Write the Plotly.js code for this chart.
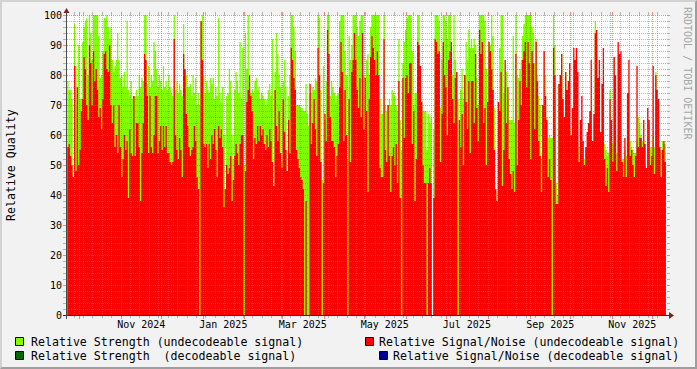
<!DOCTYPE html>
<html><head><meta charset="utf-8">
<script src="https://cdn.plot.ly/plotly-3.0.1.min.js"></script>
<style>
html,body{margin:0;padding:0;background:#F2F2F2;}
#wrap{width:693px;height:365px;border-style:solid;border-width:2px;border-color:#D2D2D2 #9E9E9E #9E9E9E #D2D2D2;background:#F2F2F2;}
#chart{width:693px;height:365px;}
</style></head><body>
<div id="wrap"><div id="chart"></div></div>
<script>
// ---- data: one value per day, first day 2024-09-22 ----
const firstDay = [2024, 8, 22];
const strengthA = [78,75,75,72,43,97,83,70,90,72, 72,91,96,98,99,80,100,94,85,100, 100,100,100,93,79,80,88,99,99,100, 96,92,96,85,81,83,85,94,85,79, 80,76,81,76,98,75,73,78,72,73, 73,75,73,80,76,79,78,100,100,77, 83,76,80,78,91,88,82,76,80,78, 75,83,76,78,75];
const snrA = [56,57,53,50,46,83,48,76,50,55, 68,72,86,82,70,65,90,84,70,88, 78,82,75,66,69,62,72,87,88,82, 81,90,70,64,70,56,60,54,70,56, 46,52,60,55,58,39,62,54,53,73, 53,64,64,56,38,54,64,87,85,73, 54,73,56,54,60,73,73,54,58,63, 55,63,56,63,54];
const strengthB = [80,76,74,73,100,75,78,74,77,75, 73,97,82,80,76,76,77,73,80,74, 79,70,74,70,98,100,80,74,78,75, 74,79,77,79,72,76,73,99,74,71, 76,60,42,73,74,82,78,60,52,75, 81,78,74,91,72,89,50,94,82,100, 76,74,75,74,78,79,75,76,72,74, 73,72,70,72];
const snrB = [54,51,50,51,92,60,55,52,59,55, 46,87,82,67,63,56,53,55,56,63, 58,46,42,0,98,85,57,56,57,49, 57,52,60,57,62,55,46,63,59,62, 56,36,42,50,47,49,53,38,45,53, 57,54,50,57,60,60,0,48,71,75, 80,73,68,52,59,57,63,58,63,60, 62,57,55,60];
const strengthC = [75,77,73,92,43,81,94,87,80,76, 51,78,85,76,48,73,80,100,100,96, 88,70,70,70,69,69,68,68,77,67, 63,74,74,76,75,79,78,100,99,75, 45,83,65,78,100,100,73,78,76,74, 71,73,74,98,100,100,100,88,80,52, 93,85,90,100,100,100,96,93,98,100, 100,80,70,85];
const snrC = [56,62,58,51,43,75,63,58,68,54, 49,72,61,55,48,65,54,89,85,79, 75,55,52,49,46,45,42,0,38,0, 0,77,57,64,72,62,53,89,80,51, 0,44,67,58,95,87,66,58,58,56, 46,53,57,76,91,81,58,75,60,0, 72,51,81,85,94,85,75,69,79,66, 94,62,79,68];
const strengthD = [87,80,96,100,100,100,100,100,100,72, 67,67,100,70,68,70,72,70,75,74, 73,70,68,92,65,55,84,91,95,99, 100,100,100,88,70,74,74,100,100,72, 71,68,68,68,55,67,64,66,0,62, 100,100,100,98,69,85,100,100,98,92, 100,100,91,80,100,85,81,72,59,75, 82,72,80,91,85];
const snrD = [41,72,86,93,89,85,80,88,80,49, 46,46,92,55,51,70,53,41,53,56, 50,57,44,78,39,0,79,59,79,80, 74,84,84,57,68,38,52,91,90,83, 71,50,44,44,0,44,49,44,0,39, 92,91,87,88,51,67,91,80,76,60, 85,88,91,72,64,79,81,0,65,56, 67,50,80,71,62];
const strengthE = [95,89,92,89,92,90,79,70,100,100, 100,100,98,82,71,91,90,100,93,69, 41,37,71,89,100,100,74,76,81,72, 65,65,65,93,64,100,80,79,82,85, 93,97,100,100,100,100,100,96,94,84, 92,80,73,70,52,70,88,80,66,59, 60,59,59,100,90,44,40,77,80,87, 72,66,81,75];
const snrE = [78,54,78,78,64,87,69,58,95,87, 91,64,69,50,71,91,88,82,75,55, 42,38,71,68,81,43,55,85,64,76, 52,47,42,48,41,87,50,65,78,70, 85,88,91,76,91,84,52,88,84,62, 91,78,58,53,41,70,88,73,65,46, 52,45,0,89,80,37,37,77,80,87, 72,66,81,75];
const strengthF = [60,62,55,58,60,57,55,58,56,55, 54,50,52,55,54,53,55,60,57,58, 98,90,60,62,55,58,57,57,55,53, 54,75,58,57,86,60,54,60,62,58, 52,52,55,53,60,58,58,56,55,54, 54,58,66,64,60,58,58,50,49,60, 58,56,56,60,56,81,60,58,55,55, 58,57,57];
const snrF = [78,84,60,69,89,85,89,81,51,65, 73,58,50,56,61,64,68,85,58,67, 94,95,79,85,61,77,89,52,43,49, 41,72,65,51,86,80,48,91,87,88, 51,46,59,46,74,85,53,55,50,46, 53,83,56,59,59,56,65,57,49,69, 65,50,53,83,47,80,75,72,56,46, 55,58,51];

const xTickDates = ['2024-11-16','2025-01-16','2025-03-16','2025-05-16','2025-07-16','2025-09-16','2025-11-16'];
const xTickLabels = ['Nov 2024','Jan 2025','Mar 2025','May 2025','Jul 2025','Sep 2025','Nov 2025'];
const yTickVals = [0,10,20,30,40,50,60,70,80,90,100];
const seriesNames = ['Relative Strength (undecodeable signal)','Relative Strength\u00A0\u00A0(decodeable signal)','Relative Signal/Noise (undecodeable signal)','Relative Signal/Noise (decodeable signal)'];
const seriesColors = ['#7FFF00','#006600','#FF0000','#000099'];

// ---- helpers ----
const DAY = 86400000;
const T0 = Date.UTC(2024, 8, 21, 19), T1 = T0 + 446 * DAY;
const D0 = Date.UTC(firstDay[0], firstDay[1], firstDay[2]);
const PL = 67, PT = 15, PW = 600, PH = 300;
const px = X => (X - PL) / PW;
const py = Y => (PT + PH - Y) / PH;
const iso = ms => new Date(ms).toISOString().slice(0, 19).replace('T', ' ');
const xPage = ms => PL + (ms - T0) / (T1 - T0) * PW;
const FONT = '"DejaVu Sans Mono", monospace';

const strength = [].concat(strengthA, strengthB, strengthC, strengthD, strengthE, strengthF);
const snr = [].concat(snrA, snrB, snrC, snrD, snrE, snrF);
const N = strength.length;
const xs = [];
for (let i = 0; i <= N; i++) xs.push(iso(D0 + i * DAY));
const gY = strength.concat([strength[N - 1]]);
const rY = snr.concat([snr[N - 1]]);

const traces = [
  {type:'scatter', x:xs, y:gY, mode:'lines', line:{width:0, shape:'hv', color:seriesColors[0]}, fill:'tozeroy', fillcolor:seriesColors[0], hoverinfo:'skip', name:seriesNames[0]},
  {type:'scatter', x:xs, y:rY, mode:'lines', line:{width:0, shape:'hv', color:seriesColors[2]}, fill:'tozeroy', fillcolor:seriesColors[2], hoverinfo:'skip', name:seriesNames[2]}
];

// ---- grid (drawn above data like rrdtool) ----
const shapes = [];
const MINC = 'rgba(130,130,130,0.55)', MAJC = 'rgba(222,80,80,0.65)';
function seg(X0, Y0, X1, Y1, color, dash) {
  shapes.push({type:'line', xref:'paper', yref:'paper', x0:px(X0), y0:py(Y0), x1:px(X1), y1:py(Y1),
    line:{color:color, width:1, dash:dash || 'solid'}, layer:'above'});
}
for (let v = 2; v <= 100; v += 2) {
  const Y = 315.5 - 3 * v;
  const c = (v % 10 === 0) ? MAJC : MINC;
  seg(67, Y, 667, Y, c, '1px,1px');
  seg(63, Y, 66, Y, c);
  seg(667, Y, 670, Y, c);
}
function vline(ms, major) {
  const X = Math.floor(xPage(ms)) + 0.5;
  if (X < 67 || X > 667) return;
  const c = major ? MAJC : MINC;
  seg(X, 15, X, 315, c, '1px,1px');
  seg(X, 12, X, 15, c);
  seg(X, 316, X, major ? 319 : 318, c);
}
for (let ms = Date.UTC(2024, 8, 27); ms < T1; ms += 7 * DAY) {
  if (new Date(ms).getUTCDate() !== 1) vline(ms, false);
}
for (let m = 9; m <= 23; m++) vline(Date.UTC(2024, m, 1), true);

// axes + arrows
seg(63, 315.5, 671, 315.5, '#24245e');
seg(66.5, 319, 66.5, 11, '#4a4a4a');
shapes.push({type:'path', xref:'paper', yref:'paper', layer:'above',
  path:`M${px(669)},${py(312)} L${px(669)},${py(319)} L${px(674)},${py(315.5)} Z`, fillcolor:'#7F1F1F', line:{width:0}});
shapes.push({type:'path', xref:'paper', yref:'paper', layer:'above',
  path:`M${px(63.5)},${py(13)} L${px(69.5)},${py(13)} L${px(66.5)},${py(8)} Z`, fillcolor:'#7F1F1F', line:{width:0}});

// legend boxes
const legendPos = [[15.5, 337.5], [15.5, 351.5], [365.5, 337.5], [379.5, 351.5]];
legendPos.forEach((p, k) => {
  shapes.push({type:'rect', xref:'paper', yref:'paper', layer:'above', x0:px(p[0]), x1:px(p[0] + 8), y0:py(p[1]), y1:py(p[1] + 8),
    fillcolor:seriesColors[k], line:{color:'#000', width:1}});
});

const annotations = [];
const legendText = [[30, 341.5, 'left'], [30, 355.5, 'left'], [680, 341.5, 'right'], [680, 355.5, 'right']];
legendText.forEach((t, k) => {
  annotations.push({xref:'paper', yref:'paper', x:px(t[2] === 'left' ? t[0] - 1 : t[0] + 1), y:py(t[1]), xanchor:t[2], yanchor:'middle',
    text:seriesNames[k], showarrow:false, font:{family:FONT, size:11.6, color:'#000'}});
});
annotations.push({xref:'paper', yref:'paper', x:px(11), y:0.5, xanchor:'center', yanchor:'middle', textangle:-90,
  text:'Relative Quality', showarrow:false, font:{family:FONT, size:11.6, color:'#000'}});
annotations.push({xref:'paper', yref:'paper', x:px(688), y:py(73), xanchor:'center', yanchor:'middle', textangle:90,
  text:'RRDTOOL / TOBI OETIKER', showarrow:false, font:{family:FONT, size:10, color:'#A6A6A6'}});

const layout = {
  width:693, height:365, margin:{l:65, r:28, t:13, b:52, pad:0},
  paper_bgcolor:'#F2F2F2', plot_bgcolor:'#FFFFFF', showlegend:false,
  font:{family:FONT, size:10, color:'#000'},
  xaxis:{type:'date', range:[iso(T0), iso(T1)], showgrid:false, zeroline:false, showline:false, ticks:'',
    tickmode:'array', tickvals:xTickDates, ticktext:xTickLabels, tickfont:{family:FONT, size:10, color:'#000'},
    ticklabelstandoff:2, fixedrange:true},
  yaxis:{range:[0,100], showgrid:false, zeroline:false, showline:false, ticks:'',
    tickmode:'array', tickvals:yTickVals, ticktext:yTickVals.map(String), tickfont:{family:FONT, size:10, color:'#000'},
    ticklabelstandoff:4, fixedrange:true},
  shapes:shapes, annotations:annotations
};
Plotly.newPlot('chart', traces, layout, {staticPlot:true, displayModeBar:false});
</script>
</body></html>
